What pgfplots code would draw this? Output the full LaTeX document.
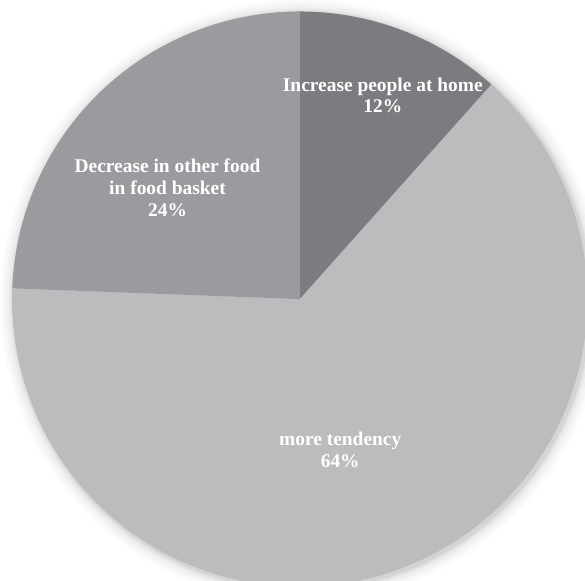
\documentclass[border=0pt]{standalone}
\usepackage{pgfplots}
\pgfplotsset{compat=1.18}
\usepackage{fontspec}
\setmainfont{Liberation Serif}
\definecolor{cA}{HTML}{7C7C80}
\definecolor{cB}{HTML}{BCBCBF}
\definecolor{cC}{HTML}{9B9B9F}
% shares (percent) in clockwise order from 12 o'clock
\def\sA{11.6}% Increase people at home
\def\sB{64.0}% more tendency
\def\sC{24.4}% Decrease in other food in food basket
\def\R{286}
\begin{document}
\begin{tikzpicture}
\begin{axis}[
  width=585pt, height=577pt, scale only axis,
  hide axis, clip=true, clip bounding box=upper bound,
  xmin=-301.5, xmax=283.5, ymin=-279.6, ymax=297.4,
]
% soft shadow
\foreach \rr/\op in {300/0.015,297/0.02,294/0.025,291/0.03,289/0.04,287.5/0.05}{
  \edef\tmp{\noexpand\fill[black, opacity=\op] (axis cs:2,-2) circle[radius=\rr];}
  \tmp
}
\addplot[fill=cA, draw=none, domain={90-3.6*\sA}:90, samples=80, variable=\t]
  ({\R*cos(t)},{\R*sin(t)}) -- (axis cs:0,0) -- cycle;
\addplot[fill=cB, draw=none, domain={90-3.6*(\sA+\sB)}:{90-3.6*\sA}, samples=240, variable=\t]
  ({\R*cos(t)},{\R*sin(t)}) -- (axis cs:0,0) -- cycle;
\addplot[fill=cC, draw=none, domain={-270}:{90-3.6*(\sA+\sB)}, samples=100, variable=\t]
  ({\R*cos(t)},{\R*sin(t)}) -- (axis cs:0,0) -- cycle;
\begin{scope}[every node/.style={anchor=base, text=white, font=\fontsize{19.3}{22}\selectfont\bfseries, inner sep=0pt}]
\node at (axis cs:82.5,206.9) {Increase people at home};
\node at (axis cs:82.5,185.6) {12\%};
\node at (axis cs:-131.5,125.7) {Decrease in other food};
\node at (axis cs:-131.5,104.1) {in food basket};
\node at (axis cs:-131.5,82.4) {24\%};
\node at (axis cs:40.2,-145.9) {more tendency};
\node at (axis cs:40.2,-167.6) {64\%};
\end{scope}
\end{axis}
\end{tikzpicture}
\end{document}
